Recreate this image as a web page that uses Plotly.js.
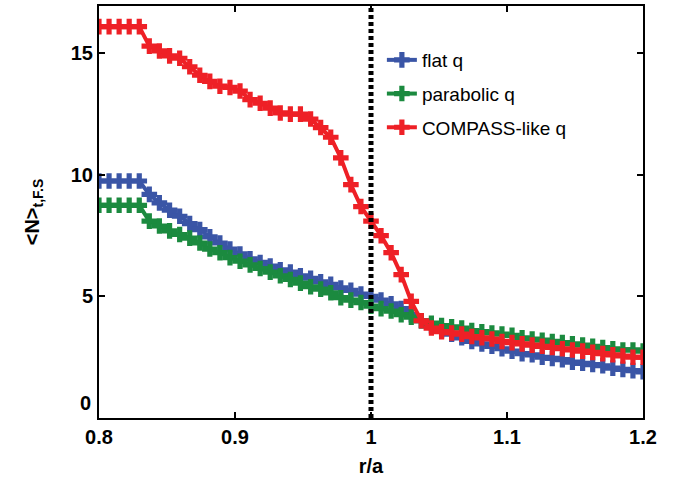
<!DOCTYPE html>
<html><head><meta charset="utf-8">
<script src="https://cdn.plot.ly/plotly-3.0.1.min.js"></script>
<style>html,body{margin:0;padding:0;background:#fff}#chart{width:688px;height:481px}</style>
</head><body><div id="chart"></div>
<script>
const rOverA = [0.8000,0.8074,0.8148,0.8222,0.8296,0.8370,0.8444,0.8519,0.8593,0.8667,
  0.8741,0.8815,0.8889,0.8963,0.9037,0.9111,0.9185,0.9259,0.9333,0.9407,
  0.9481,0.9556,0.9630,0.9704,0.9778,0.9852,0.9926,1.0000,1.0074,1.0148,
  1.0222,1.0296,1.0370,1.0444,1.0519,1.0593,1.0667,1.0741,1.0815,1.0889,
  1.0963,1.1037,1.1111,1.1185,1.1259,1.1333,1.1407,1.1481,1.1556,1.1630,
  1.1704,1.1778,1.1852,1.1926,1.2000];
const flatQ = [9.75,9.75,9.75,9.75,9.75,9.2,8.85,8.55,8.3,8.0,
  7.75,7.45,7.2,6.95,6.75,6.55,6.4,6.25,6.1,6.0,
  5.85,5.75,5.6,5.5,5.35,5.25,5.1,5.0,4.85,4.7,
  4.5,4.25,4.0,3.8,3.6,3.45,3.3,3.15,3.05,2.95,
  2.85,2.75,2.65,2.6,2.5,2.45,2.4,2.3,2.25,2.2,
  2.15,2.05,2.0,1.95,1.9];
const parabolicQ = [8.75,8.75,8.75,8.75,8.75,8.1,7.9,7.7,7.55,7.4,
  7.2,6.95,6.8,6.6,6.45,6.3,6.15,6.0,5.85,5.7,
  5.55,5.4,5.3,5.15,4.95,4.85,4.75,4.6,4.5,4.4,
  4.25,4.15,4.0,3.9,3.8,3.75,3.7,3.6,3.55,3.5,
  3.45,3.4,3.3,3.25,3.2,3.15,3.1,3.05,3.0,2.95,
  2.9,2.85,2.8,2.8,2.75];
const compassQ = [16.1,16.1,16.1,16.1,16.1,15.3,15.1,14.9,14.8,14.45,
  14.1,13.85,13.65,13.6,13.45,13.1,12.95,12.75,12.55,12.5,
  12.5,12.3,11.95,11.55,10.7,9.6,8.7,8.1,7.5,6.8,
  5.9,4.8,4.0,3.7,3.55,3.5,3.45,3.35,3.3,3.25,
  3.15,3.1,3.05,3.0,2.95,2.9,2.85,2.8,2.75,2.7,
  2.65,2.6,2.55,2.5,2.5];
const seriesNames = ['flat q','parabolic q','COMPASS-like q'];
const seriesColors = ['#3a55a6','#1b8a3f','#ee2026'];
const xTickVals = [0.8,0.9,1.0,1.1,1.2];
const xTickText = ['0.8','0.9','1','1.1','1.2'];
const yTickVals = [0,5,10,15];
const yTickText = ['5','10','15'];
const separatrix = 1.0;

const ys = [flatQ, parabolicQ, compassQ];
const traces = ys.map((y,i)=>({
  x: rOverA, y: y, name: seriesNames[i], type:'scatter', mode:'lines+markers',
  legendgroup: 'g'+i,
  line:{color:seriesColors[i], width:4},
  marker:{symbol:'cross', size:13, color:seriesColors[i], line:{width:0}}
}));

const fontF = 'Liberation Sans, Arial, sans-serif';
const layout = {
  width:688, height:481,
  margin:{l:99, r:45, t:6, b:63},
  paper_bgcolor:'#fff', plot_bgcolor:'#fff',
  showlegend:true,
  legend:{x:0.52, y:0.915, xanchor:'left', yanchor:'top', bgcolor:'rgba(0,0,0,0)',
    font:{family:fontF, size:19, color:'#000'}, itemwidth:30, tracegroupgap:6, traceorder:'grouped'},
  xaxis:{range:[0.8,1.2], tickvals:xTickVals, ticktext:xTickText, ticks:'inside', ticklen:6,
    tickwidth:2, tickcolor:'#000', showline:true, linecolor:'#000', linewidth:2, mirror:'ticks',
    showgrid:false, zeroline:false,
    tickfont:{family:fontF, size:20, color:'#000', weight:'bold'},
    title:{text:'r/a', font:{family:fontF, size:20, color:'#000', weight:'bold'}, standoff:12}},
  yaxis:{range:[0,16.95], tickvals:yTickVals.slice(1), ticktext:yTickText, ticks:'inside', ticklen:6,
    tickwidth:2, tickcolor:'#000', showline:true, linecolor:'#000', linewidth:2, mirror:'ticks',
    showgrid:false, zeroline:false,
    tickfont:{family:fontF, size:20, color:'#000', weight:'bold'},
    title:{text:'&lt;N&gt;<sub>t,F.S</sub>', font:{family:fontF, size:20, color:'#000', weight:'bold'}, standoff:26}},
  shapes:[{type:'line', xref:'x', yref:'paper', x0:separatrix, x1:separatrix, y0:0, y1:1,
    layer:'above', line:{color:'#000', width:5, dash:'4px,3px'}}],
  annotations:[{xref:'paper', yref:'y', x:0, y:0.62, xanchor:'right', yanchor:'middle', xshift:-6,
    text:String(yTickVals[0]), showarrow:false, font:{family:fontF, size:20, color:'#000', weight:'bold'}}]
};
Plotly.newPlot('chart', traces, layout, {displayModeBar:false, staticPlot:true});
</script></body></html>
